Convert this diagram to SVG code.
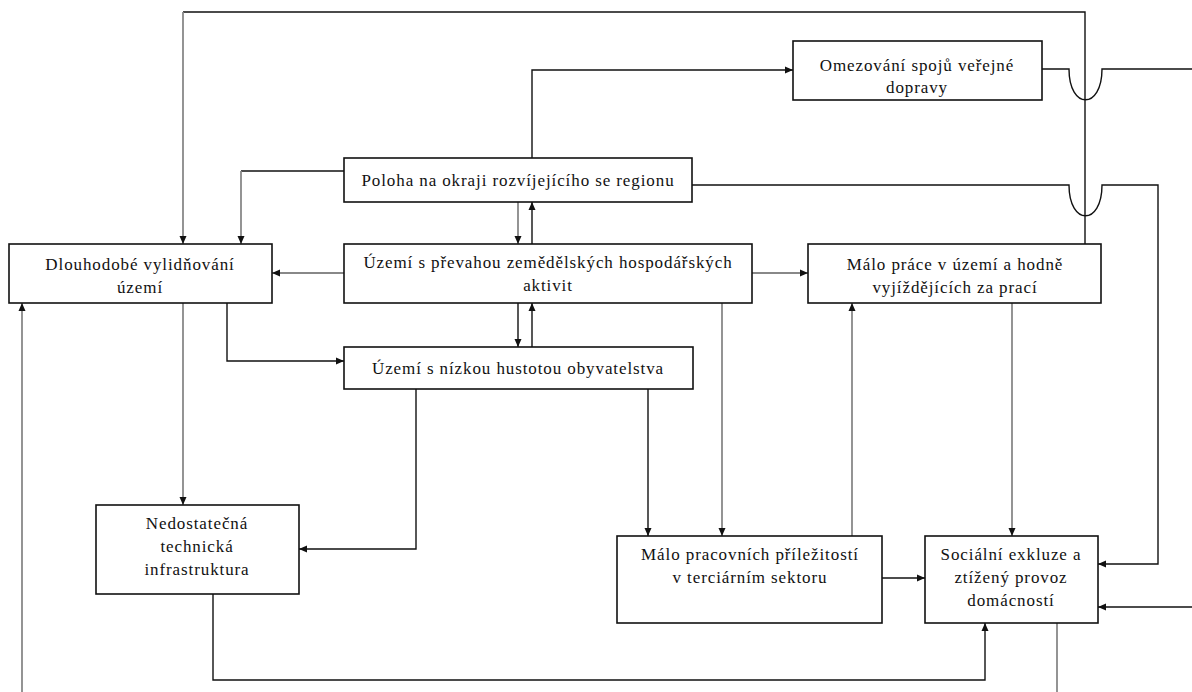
<svg xmlns="http://www.w3.org/2000/svg" width="1192" height="692" viewBox="0 0 1192 692">
<style>
.box{fill:#fff;stroke:#111;stroke-width:1.6}
.t{font-family:"Liberation Serif","Times New Roman",serif;font-size:17px;letter-spacing:0.9px;fill:#111;text-anchor:middle}
.c{fill:none;stroke:#111;stroke-width:1.4}
.g{fill:none;stroke:#888;stroke-width:1.8}
</style>
<defs>
<marker id="a" viewBox="0 0 8 8" markerWidth="8" markerHeight="8" refX="8" refY="4" orient="auto" markerUnits="userSpaceOnUse">
<path d="M0,0.5 L8,4 L0,7.5 z" fill="#111"/>
</marker>
</defs>
<rect width="1192" height="692" fill="#fff"/>
<g id="connectors">
<path class="c" d="M1085,244 V12 H183" />
<path class="g" d="M183,12 V244" marker-end="url(#a)"/>
<path class="c" d="M532,158 V70 H793" marker-end="url(#a)"/>
<path class="c" d="M1042,69 H1069 C1069,110 1102,110 1102,69 H1192"/>
<path class="c" d="M692,185 H1069 C1069,226 1102,226 1102,185 H1158 V564 H1098" marker-end="url(#a)"/>
<path class="c" d="M344,171 H241"/>
<path class="g" d="M241,171 V244" marker-end="url(#a)"/>
<path class="g" d="M518,202 V244" marker-end="url(#a)"/>
<path class="c" d="M532,244 V202" marker-end="url(#a)"/>
<path class="g" d="M344,273 H272" marker-end="url(#a)"/>
<path class="g" d="M752,273 H808" marker-end="url(#a)"/>
<path class="c" d="M518,303 V347" marker-end="url(#a)"/>
<path class="c" d="M532,347 V303" marker-end="url(#a)"/>
<path class="c" d="M227,303 V361 H344" marker-end="url(#a)"/>
<path class="g" d="M183,303 V505" marker-end="url(#a)"/>
<path class="g" d="M22,692 V303" marker-end="url(#a)"/>
<path class="c" d="M416,389 V549 H299" marker-end="url(#a)"/>
<path class="c" d="M648,389 V536" marker-end="url(#a)"/>
<path class="g" d="M722,303 V536" marker-end="url(#a)"/>
<path class="g" d="M852,536 V303" marker-end="url(#a)"/>
<path class="g" d="M1012,303 V536" marker-end="url(#a)"/>
<path class="c" d="M882,578 H925" marker-end="url(#a)"/>
<path class="c" d="M213,594 V680 H985 V623" marker-end="url(#a)"/>
<path class="c" d="M1192,607 H1098" marker-end="url(#a)"/>
<path class="g" d="M1057,623 V692"/>
</g>
<g id="n-omezovani">
<rect class="box" x="793" y="41" width="249" height="59"/>
<text class="t" x="917" y="71">Omezování spojů veřejné</text>
<text class="t" x="917" y="93">dopravy</text>
</g>
<g id="n-poloha">
<rect class="box" x="344" y="158" width="348" height="44"/>
<text class="t" x="518" y="186">Poloha na okraji rozvíjejícího se regionu</text>
</g>
<g id="n-dlouhodobe">
<rect class="box" x="9" y="244" width="263" height="59"/>
<text class="t" x="140" y="270">Dlouhodobé vylidňování</text>
<text class="t" x="140" y="293">území</text>
</g>
<g id="n-prevaha">
<rect class="box" x="344" y="244" width="408" height="59"/>
<text class="t" x="548" y="268">Území s převahou zemědělských hospodářských</text>
<text class="t" x="548" y="291">aktivit</text>
</g>
<g id="n-malo-prace">
<rect class="box" x="808" y="244" width="293" height="59"/>
<text class="t" x="955" y="270">Málo práce v území a hodně</text>
<text class="t" x="955" y="293">vyjíždějících za prací</text>
</g>
<g id="n-hustota">
<rect class="box" x="344" y="347" width="349" height="42"/>
<text class="t" x="518" y="374">Území s nízkou hustotou obyvatelstva</text>
</g>
<g id="n-infrastruktura">
<rect class="box" x="96" y="505" width="203" height="89"/>
<text class="t" x="197" y="529">Nedostatečná</text>
<text class="t" x="197" y="552">technická</text>
<text class="t" x="197" y="575">infrastruktura</text>
</g>
<g id="n-terciar">
<rect class="box" x="617" y="536" width="265" height="87"/>
<text class="t" x="750" y="560">Málo pracovních příležitostí</text>
<text class="t" x="750" y="583">v terciárním sektoru</text>
</g>
<g id="n-exkluze">
<rect class="box" x="925" y="536" width="173" height="87"/>
<text class="t" x="1011" y="560">Sociální exkluze a</text>
<text class="t" x="1011" y="583">ztížený provoz</text>
<text class="t" x="1011" y="606">domácností</text>
</g>
</svg>
